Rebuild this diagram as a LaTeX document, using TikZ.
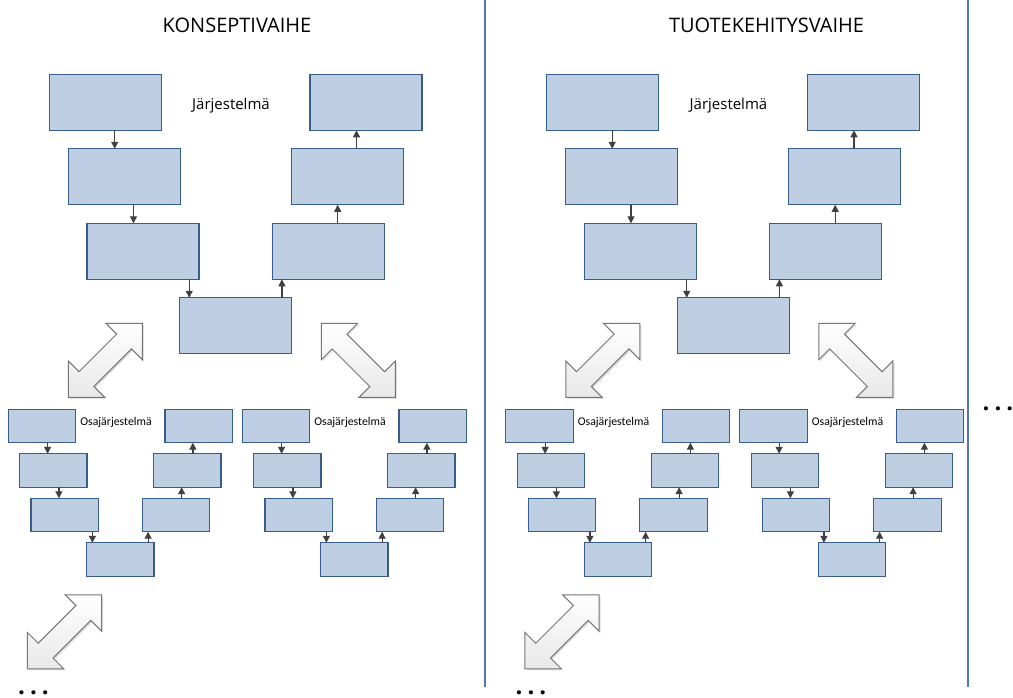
\documentclass[tikz,border=0pt]{standalone}
\usepackage{fontspec}
\setmainfont{Open Sans}
\newfontfamily\narrowfont{Carlito}
\usetikzlibrary{calc,arrows.meta}

\definecolor{boxfill}{RGB}{190,206,227}
\definecolor{boxline}{RGB}{56,93,138}
\definecolor{linkcol}{RGB}{64,64,64}
\definecolor{divider}{RGB}{84,118,168}
\definecolor{dblline}{RGB}{118,118,118}

\tikzset{
  bigbox/.style={draw=boxline, fill=boxfill, line width=1.2pt, anchor=north west,
    minimum width=112pt, minimum height=56pt, inner sep=0pt, outer sep=0pt},
  smallbox/.style={bigbox, minimum width=67.3pt, minimum height=33.4pt},
  link/.style={draw=linkcol, line width=1.2pt, -{Triangle[length=7pt,width=7pt]}},
  phase/.style={font=\fontsize{20}{24}\selectfont, anchor=base, inner sep=0pt},
  level/.style={font=\fontsize{15}{18}\selectfont, anchor=base, inner sep=0pt},
  sublevel/.style={font=\narrowfont\fontsize{11.8}{14}\selectfont, anchor=base, inner sep=0pt},
  more/.style={font=\bfseries\fontsize{24}{28}\selectfont, anchor=base, inner sep=0pt,
    text height=4pt, text depth=0pt},
  twoway/.style={draw=dblline, line width=1pt, line join=miter, top color=white, bottom color=black!9},
  twowayshadow/.style={fill=black, opacity=.12},
  divline/.style={draw=divider, line width=1.5pt},
}

% outline of a two-headed block arrow lying along the local x axis
\newcommand\twowaypath{(-52.35,0) -- (-26.65,25.7) -- (-26.65,10.5) -- (26.65,10.5)
  -- (26.65,25.7) -- (52.35,0) -- (26.65,-25.7) -- (26.65,-10.5) -- (-26.65,-10.5)
  -- (-26.65,-25.7) -- cycle}
% #1,#2: centre, #3: rotation angle
\newcommand\twoway[3]{%
  \begin{scope}[shift={(#1+1.6,#2+1.6)},rotate=#3]
    \fill[twowayshadow] \twowaypath;
  \end{scope}
  \begin{scope}[shift={(#1,#2)},rotate=#3]
    \path[twoway] \twowaypath;
  \end{scope}}

% connector in the middle of the horizontal overlap of two boxes
\newcommand\linkdown[2]{%
  \coordinate (#1#2m) at ($(#1.south east)!.5!(#2.north west)$);
  \draw[link] (#1#2m |- #1.south) -- (#1#2m |- #2.north);}
\newcommand\linkup[2]{%
  \coordinate (#1#2m) at ($(#1.north east)!.5!(#2.south west)$);
  \draw[link] (#1#2m |- #1.north) -- (#1#2m |- #2.south);}

% V model: #1 prefix, #2,#3 top-left corner, #4 side step, #5 bottom step,
% #6 vertical step, #7 box style
\newcommand\vshape[7]{%
  \node[#7] (#1a) at (#2,#3) {};
  \node[#7] (#1b) at (#2+#4,#3+#6) {};
  \node[#7] (#1c) at (#2+2*#4,#3+2*#6) {};
  \node[#7] (#1d) at (#2+2*#4+#5,#3+3*#6) {};
  \node[#7] (#1e) at (#2+2*#4+2*#5,#3+2*#6) {};
  \node[#7] (#1f) at (#2+3*#4+2*#5,#3+#6) {};
  \node[#7] (#1g) at (#2+4*#4+2*#5,#3) {};
  \linkdown{#1a}{#1b}
  \linkdown{#1b}{#1c}
  \linkdown{#1c}{#1d}
  \linkup{#1d}{#1e}
  \linkup{#1e}{#1f}
  \linkup{#1f}{#1g}}

% one phase column: #1 prefix, #2 horizontal offset
\newcommand\phasecolumn[2]{%
  \vshape{#1V}{49.3+#2}{74.3}{18.8}{92.7}{74.5}{bigbox}
  \node[level] (#1sys) at ({231+#2},109.5) {Järjestelmä};
  \twoway{105.3+#2}{360.3}{45}
  \twoway{358.4+#2}{360.3}{-45}
  \vshape{#1P}{8.3+#2}{409.3}{11.3}{55.7}{44.5}{smallbox}
  \node[sublevel] (#1subp) at ({116+#2},425.5) {Osajärjestelmä};
  \vshape{#1Q}{242.3+#2}{409.3}{11.3}{55.7}{44.5}{smallbox}
  \node[sublevel] (#1subq) at ({350+#2},425.5) {Osajärjestelmä};
  \twoway{64.5+#2}{631.8}{45}
  \node[more] (#1more) at ({33.5+#2},694) {.\kern5pt.\kern5pt.};}

\begin{document}
\begin{tikzpicture}[x=1pt,y=-1pt]
  \useasboundingbox (0,0) rectangle (1013,698);
  \fill[white] (0,0) rectangle (1013,698);

  % phase dividers
  \draw[divline] (485,0) -- (485,687);
  \draw[divline] (968,0) -- (968,687);

  \node[phase] (concept) at (237,32.7) {KONSEPTIVAIHE};
  \node[phase] (product) at (766.5,32.7) {TUOTEKEHITYSVAIHE};

  \phasecolumn{K}{0}
  \phasecolumn{T}{497.5}

  \node[more] (next) at (998,410) {.\kern5pt.\kern5pt.};
\end{tikzpicture}
\end{document}
